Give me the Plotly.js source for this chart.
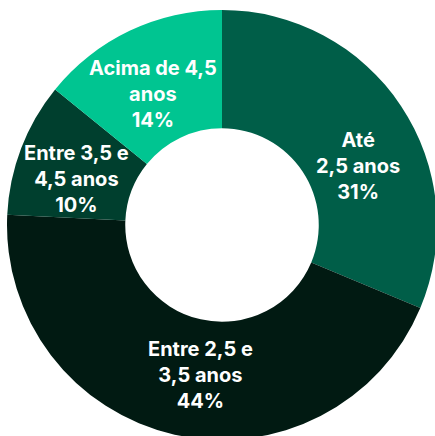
<!DOCTYPE html>
<html><head><meta charset="utf-8">
<script src="https://cdn.plot.ly/plotly-3.0.1.min.js"></script>
<style>html,body{margin:0;padding:0;background:#fff;overflow:hidden}</style>
</head><body>
<div id="chart" style="width:440px;height:440px"></div>
<script>
const categories = ["Até 2,5 anos", "Entre 2,5 e 3,5 anos", "Entre 3,5 e 4,5 anos", "Acima de 4,5 anos"];
const values = [31, 44, 10, 14];
const labelTexts = ["Até<br>2,5 anos<br>31%", "Entre 2,5 e<br>3,5 anos<br>44%", "Entre 3,5 e<br>4,5 anos<br>10%", "Acima de 4,5<br>anos<br>14%"];
const colors = ["#005e48", "#011a12", "#003f2e", "#00c591"];

const W = 440, H = 440;
const cx = 222, cy = 225, R = 215, holeFrac = 0.45;
// per-label nudges in pixels (layout only)
const nudges = [[6, -27], [13, 2], [0, -10], [-2, -10]];

const trace = {
  type: "pie",
  labels: categories,
  values: values,
  textinfo: "none",
  hole: holeFrac,
  sort: false,
  direction: "clockwise",
  rotation: 0,
  marker: {colors: colors, line: {width: 0}},
  domain: {x: [(cx - R) / W, (cx + R) / W], y: [1 - (cy + R) / H, 1 - (cy - R) / H]},
  showlegend: false,
  hoverinfo: "label+percent"
};

const total = values.reduce((a, b) => a + b, 0);
const rMid = R * (1 + holeFrac) / 2;
let cum = 0;
const annotations = values.map((v, i) => {
  const mid = (cum + v / 2) / total * 2 * Math.PI;
  cum += v;
  const px = cx + rMid * Math.sin(mid);
  const py = cy - rMid * Math.cos(mid);
  return {
    xref: "paper", yref: "paper",
    x: px / W, y: 1 - py / H,
    xanchor: "center", yanchor: "middle",
    xshift: nudges[i][0], yshift: nudges[i][1],
    text: labelTexts[i],
    showarrow: false,
    align: "center",
    font: {family: "Inter, 'Open Sans', sans-serif", size: 20, color: "#ffffff", weight: 700}
  };
});

Plotly.newPlot("chart", [trace], {
  width: W, height: H,
  margin: {l: 0, r: 0, t: 0, b: 0},
  paper_bgcolor: "#ffffff",
  showlegend: false,
  annotations: annotations
}, {displayModeBar: false, staticPlot: true});
</script>
</body></html>
